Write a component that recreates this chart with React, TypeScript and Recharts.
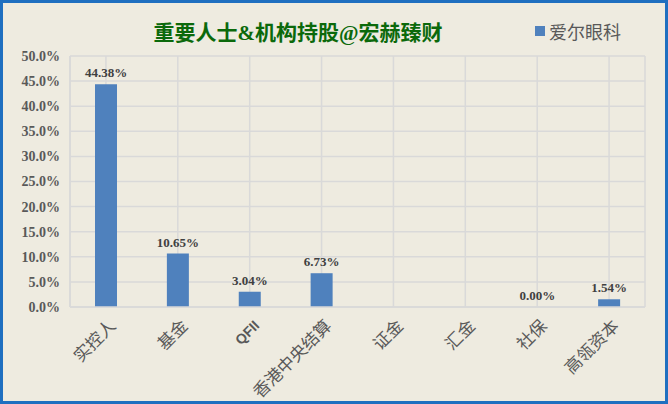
import React from 'react';
import { BarChart, Bar, XAxis, YAxis, CartesianGrid, LabelList } from 'recharts';

const categories = ['实控人', '基金', 'QFII', '香港中央结算', '证金', '汇金', '社保', '高瓴资本'];
const values: (number | null)[] = [44.38, 10.65, 3.04, 6.73, null, null, 0.0, 1.54];
const yTicks = [0, 5, 10, 15, 20, 25, 30, 35, 40, 45, 50];
const seriesName = '爱尔眼科';
const title = '重要人士&机构持股@宏赫臻财';

const data = categories.map((c, i) => ({ name: c, value: values[i] }));

const SERIF = '"Liberation Serif", "Times New Roman", "Noto Sans CJK SC", serif';

const XTick = (props: any) => {
  const { x, y, payload } = props;
  const isLatin = /^[A-Za-z]+$/.test(payload.value);
  return (
    <g transform={`translate(${x + 7},${y + 8})`}>
      <text
        transform="rotate(-45)"
        textAnchor="end"
        dominantBaseline="central"
        fill="#595959"
        fontSize={isLatin ? 14 : 17}
        fontWeight={isLatin ? 'bold' : 'normal'}
        fontFamily={isLatin ? '"Liberation Sans", Arial, sans-serif' : SERIF}
      >
        {payload.value}
      </text>
    </g>
  );
};

const renderLabel = (props: any) => {
  const { x, y, width, value } = props;
  if (value === null || value === undefined) return null;
  return (
    <text
      x={Number(x) + Number(width) / 2}
      y={Number(y) - 7}
      textAnchor="middle"
      fill="#404040"
      fontSize={13}
      fontWeight="bold"
      fontFamily={SERIF}
    >
      {Number(value).toFixed(2) + '%'}
    </text>
  );
};

export default function App() {
  return (
    <div style={{ position: 'fixed', left: 0, top: 0, width: 668, height: 404, background: '#EEEBE0' }}>
      <div
        style={{
          position: 'absolute',
          left: 0,
          top: 18,
          width: 596,
          textAlign: 'center',
          fontSize: 21,
          fontWeight: 'bold',
          color: '#0B690B',
          fontFamily: SERIF,
          lineHeight: '30px',
        }}
      >
        {title}
      </div>
      <div
        style={{
          position: 'absolute',
          left: 535,
          top: 18,
          height: 26,
          display: 'flex',
          alignItems: 'center',
          fontSize: 18,
          color: '#595959',
          fontFamily: SERIF,
        }}
      >
        <span style={{ display: 'inline-block', width: 10, height: 10, background: '#4F81BD', marginRight: 4 }} />
        <span>{seriesName}</span>
      </div>
      <BarChart
        width={668}
        height={404}
        data={data}
        margin={{ top: 56, right: 23, left: 0, bottom: 0 }}
      >
        <CartesianGrid stroke="#D9D9D9" strokeWidth={1.5} vertical={true} horizontal={true} />
        <XAxis
          dataKey="name"
          interval={0}
          height={97}
          tickLine={false}
          axisLine={{ stroke: '#D9D9D9', strokeWidth: 1.5 }}
          tick={<XTick />}
        />
        <YAxis
          width={70}
          domain={[0, 50]}
          ticks={yTicks}
          tickLine={false}
          axisLine={{ stroke: '#D9D9D9', strokeWidth: 1.5 }}
          tickMargin={4}
          tickFormatter={(v: number) => v.toFixed(1) + '%'}
          tick={{ fill: '#595959', fontSize: 14, fontWeight: 'bold', fontFamily: SERIF }}
        />
        <Bar
          dataKey="value"
          name={seriesName}
          fill="#4F81BD"
          barSize={22}
          minPointSize={(v: any) => (v === 0 ? 0.01 : 0)}
          isAnimationActive={false}
        >
          <LabelList dataKey="value" content={renderLabel} />
        </Bar>
      </BarChart>
      <div
        style={{
          position: 'absolute',
          left: 0,
          top: 0,
          width: 668,
          height: 404,
          boxSizing: 'border-box',
          border: '3px solid #1F6FC0',
          pointerEvents: 'none',
        }}
      />
    </div>
  );
}
